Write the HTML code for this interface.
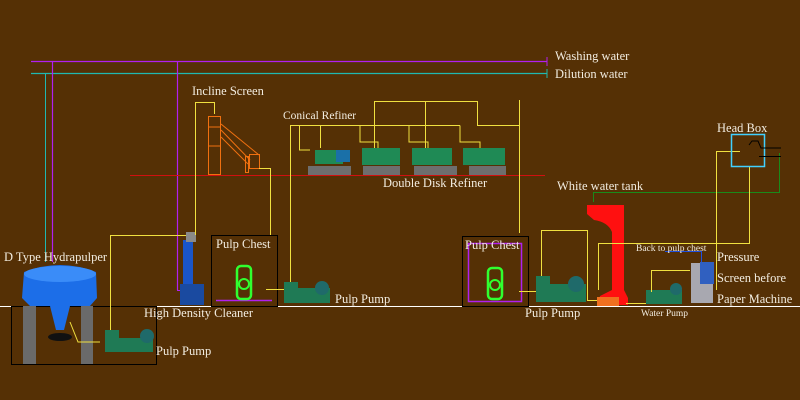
<!DOCTYPE html>
<html><head><meta charset="utf-8"><style>
html,body{margin:0;padding:0;background:#553005;}
svg{display:block}
text{font-family:"Liberation Serif",serif;fill:#f2ece0;font-size:12.5px}
.s{font-size:9.5px}
</style></head><body>
<svg width="800" height="400" viewBox="0 0 800 400" xmlns="http://www.w3.org/2000/svg">
<rect width="800" height="400" fill="#553005"/>
<line x1="31" y1="61.5" x2="547" y2="61.5" stroke="#b020f0" stroke-width="1.2"/>
<line x1="547" y1="57" x2="547" y2="66" stroke="#b020f0"/>
<line x1="31" y1="73.5" x2="547" y2="73.5" stroke="#20b8b0" stroke-width="1.2"/>
<line x1="547" y1="69" x2="547" y2="78" stroke="#20b8b0"/>
<line x1="45.5" y1="73" x2="45.5" y2="262" stroke="#20b8b0"/>
<line x1="52.5" y1="61" x2="52.5" y2="262" stroke="#b020f0" stroke-width="1.2"/>
<line x1="177.5" y1="61" x2="177.5" y2="290" stroke="#b020f0" stroke-width="1.2"/>
<line x1="177" y1="290.5" x2="190" y2="290.5" stroke="#b020f0"/>
<line x1="0" y1="306.5" x2="800" y2="306.5" stroke="#ffffff"/>
<line x1="130" y1="175.5" x2="545" y2="175.5" stroke="#d01010"/>
<rect x="11.5" y="306.5" width="145" height="58" fill="none" stroke="#000"/>
<rect x="23" y="306" width="13" height="58" fill="#6a6a6a"/>
<rect x="81" y="306" width="12" height="58" fill="#6a6a6a"/>
<path d="M24 272 Q60 258 96 272 L97 298 L90 306 L70 306 L64 330 L56 330 L50 306 L30 306 L22 298 Z" fill="#1c6ee8"/>
<ellipse cx="60" cy="274" rx="36" ry="8" fill="#3a8cf8"/>
<ellipse cx="60" cy="337" rx="12" ry="4" fill="#111"/>
<polyline points="70,322 78,342 100,342" fill="none" stroke="#f0e040"/>
<polyline points="110.5,330 110.5,235.5 186,235.5" fill="none" stroke="#f0e040"/>
<g fill="#1f7a55"><rect x="105" y="338" width="48" height="14"/><circle cx="147" cy="336" r="7" fill="#1f6a6a"/><rect x="105" y="330" width="14" height="12"/></g>
<rect x="183" y="240" width="10" height="60" fill="#1a55c8"/>
<rect x="186" y="232" width="10" height="10" fill="#8a8a8a"/>
<rect x="180" y="284" width="24" height="21" fill="#1a4aa0"/>
<polyline points="195.5,235 195.5,102.5 214.5,102.5 214.5,114" fill="none" stroke="#f0e040"/>
<g fill="none" stroke="#f07010">
<rect x="208.5" y="116.5" width="12" height="58"/>
<line x1="208" y1="127" x2="221" y2="127"/><line x1="208" y1="146" x2="221" y2="146"/>
<line x1="221" y1="124" x2="259" y2="155"/><line x1="221" y1="130" x2="250" y2="160"/>
<line x1="221" y1="137" x2="248" y2="164"/>
<rect x="249.5" y="154.5" width="10" height="14"/><rect x="245.5" y="156.5" width="3" height="16"/>
</g>
<polyline points="259,168.5 270.5,168.5 270.5,235" fill="none" stroke="#f0e040"/>
<rect x="211.5" y="235.5" width="66" height="71" fill="none" stroke="#000"/>
<line x1="216" y1="300.5" x2="272" y2="300.5" stroke="#b020f0" stroke-width="1.5"/>
<rect x="237" y="266" width="14" height="33" rx="4" fill="none" stroke="#30ff30" stroke-width="2.5"/>
<circle cx="244" cy="284" r="5" fill="none" stroke="#30ff30" stroke-width="2"/>
<line x1="266" y1="289.5" x2="285" y2="289.5" stroke="#f0e040"/>
<g fill="#1f7a55"><rect x="284" y="288" width="46" height="15"/><circle cx="322" cy="288" r="7" fill="#1f6a6a"/><rect x="284" y="282" width="14" height="10"/></g>
<g fill="none" stroke="#f0e040">
<polyline points="290.5,282 290.5,125.5 460,125.5"/>
<polyline points="299.5,125 299.5,150 310,150"/>
<polyline points="320.5,125 320.5,148"/>
<polyline points="374.5,101.5 477.5,101.5 477.5,125"/>
<polyline points="374.5,101 374.5,148"/><polyline points="425.5,101 425.5,148"/>
<polyline points="360,125.5 360,142 378,142 378,148"/>
<polyline points="409,125.5 409,142 428,142 428,148"/>
<polyline points="460,125.5 460,142 480,142 480,148"/>
<polyline points="519.5,100 519.5,233"/>
<line x1="477" y1="125.5" x2="519" y2="125.5"/>
</g>
<g fill="#6e6e6e"><rect x="308" y="166" width="43" height="9"/><rect x="363" y="166" width="37" height="9"/><rect x="414" y="166" width="43" height="9"/><rect x="469" y="166" width="37" height="9"/></g>
<g fill="#1f8a55"><rect x="315" y="150" width="28" height="14"/><rect x="362" y="148" width="38" height="17"/><rect x="412" y="148" width="40" height="17"/><rect x="463" y="148" width="42" height="17"/></g>
<rect x="336" y="150" width="14" height="12" fill="#1a70a8"/>
<rect x="462.5" y="236.5" width="66" height="70" fill="none" stroke="#000"/>
<rect x="468.5" y="243.5" width="53" height="58" fill="none" stroke="#b020f0" stroke-width="1.5"/>
<rect x="488" y="268" width="14" height="31" rx="4" fill="none" stroke="#30ff30" stroke-width="2.5"/>
<circle cx="495" cy="285" r="5" fill="none" stroke="#30ff30" stroke-width="2"/>
<line x1="519" y1="291.5" x2="536" y2="291.5" stroke="#f0e040"/>
<g fill="#1f7a55"><rect x="536" y="284" width="50" height="18"/><circle cx="576" cy="284" r="8" fill="#1f6a6a"/><rect x="536" y="276" width="14" height="10"/></g>
<polyline points="541.5,276 541.5,230.5 587.5,230.5 587.5,300.5 600,300.5" fill="none" stroke="#f0e040"/>
<path d="M587 205 L624 205 L624 290 L628 298 L628 305 L598 305 L600 296 L612 290 L612 232 Q608 222 594 220 L587 214 Z" fill="#ff1010"/>
<rect x="597" y="297" width="22" height="9" fill="#f07020"/>
<polyline points="598.5,290 598.5,243.5 612,243.5" fill="none" stroke="#f0e040"/>
<polyline points="779.5,153 779.5,192.5 593.5,192.5 593.5,202" fill="none" stroke="#1a8a1a"/>
<g fill="#1f7a55"><rect x="646" y="290" width="36" height="14"/><circle cx="676" cy="289" r="6" fill="#1f6a6a"/></g>
<line x1="626" y1="303.5" x2="646" y2="303.5" stroke="#f0e040"/>
<polyline points="651.5,292 651.5,270.5 690,270.5" fill="none" stroke="#f0e040"/>
<rect x="691" y="263" width="22" height="40" fill="#a8a8b0"/>
<rect x="700" y="262" width="14" height="22" fill="#3060c0"/>
<polyline points="665,251.5 701.5,251.5 701.5,262" fill="none" stroke="#2050e0"/>
<polyline points="716.5,290 716.5,151.5 740,151.5" fill="none" stroke="#f0e040"/>
<polyline points="749.5,166 749.5,243.5 612,243.5" fill="none" stroke="#f0e040"/>
<rect x="731.5" y="134.5" width="33" height="32" fill="none" stroke="#40d0ff" stroke-width="1.5"/>
<polyline points="749,145 752,141 758,141 761,148 781,148" fill="none" stroke="#000"/>
<line x1="759" y1="156.5" x2="781" y2="156.5" stroke="#000"/>
<text x="555" y="60">Washing water</text>
<text x="555" y="78">Dilution water</text>
<text x="192" y="95">Incline Screen</text>
<text x="283" y="119" style="font-size:11.5px">Conical Refiner</text>
<text x="383" y="187">Double Disk Refiner</text>
<text x="717" y="132">Head Box</text>
<text x="557" y="190">White water tank</text>
<text x="4" y="261">D Type Hydrapulper</text>
<text x="216" y="248">Pulp Chest</text>
<text x="144" y="317">High Density Cleaner</text>
<text x="156" y="355">Pulp Pump</text>
<text x="335" y="303">Pulp Pump</text>
<text x="465" y="249">Pulp Chest</text>
<text x="525" y="317">Pulp Pump</text>
<text class="s" x="636" y="251">Back to pulp chest</text>
<text x="717" y="261">Pressure</text>
<text x="717" y="282">Screen before</text>
<text x="717" y="303">Paper Machine</text>
<text class="s" x="641" y="316">Water Pump</text>
</svg>
</body></html>
